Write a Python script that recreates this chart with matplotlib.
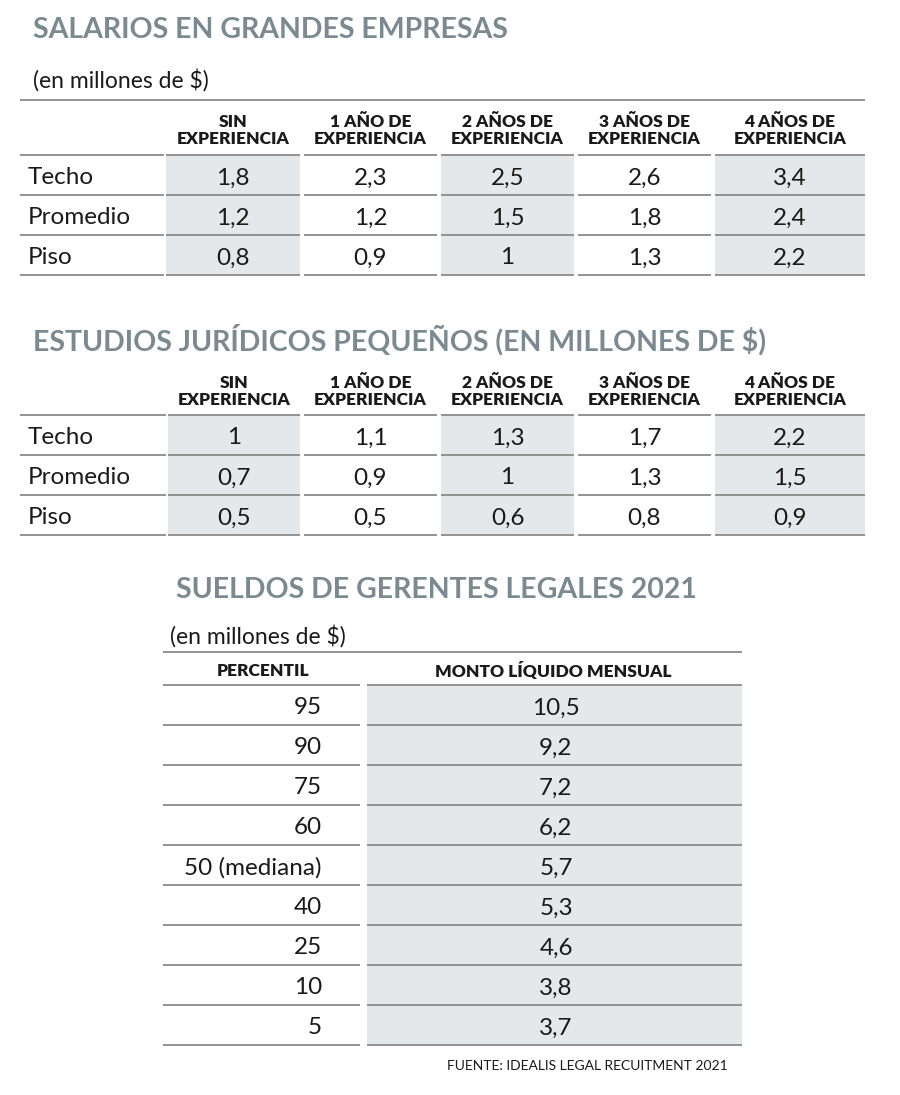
import matplotlib
matplotlib.use("Agg")
import matplotlib.pyplot as plt
from matplotlib.patches import Rectangle

plt.rcParams['font.family'] = ['Lato', 'DejaVu Sans']

title1 = "SALARIOS EN GRANDES EMPRESAS"
title2 = "ESTUDIOS JURÍDICOS PEQUEÑOS (EN MILLONES DE $)"
title3 = "SUELDOS DE GERENTES LEGALES 2021"
subtitle = "(en millones de $)"
col_headers = ["SIN\nEXPERIENCIA", "1 AÑO DE\nEXPERIENCIA", "2 AÑOS DE\nEXPERIENCIA",
               "3 AÑOS DE\nEXPERIENCIA", "4 AÑOS DE\nEXPERIENCIA"]
row_labels = ["Techo", "Promedio", "Piso"]
grandes = [["1,8", "2,3", "2,5", "2,6", "3,4"],
           ["1,2", "1,2", "1,5", "1,8", "2,4"],
           ["0,8", "0,9", "1", "1,3", "2,2"]]
pequenos = [["1", "1,1", "1,3", "1,7", "2,2"],
            ["0,7", "0,9", "1", "1,3", "1,5"],
            ["0,5", "0,5", "0,6", "0,8", "0,9"]]
percentiles = ["95", "90", "75", "60", "50 (mediana)", "40", "25", "10", "5"]
montos = ["10,5", "9,2", "7,2", "6,2", "5,7", "5,3", "4,6", "3,8", "3,7"]
source = "FUENTE: IDEALIS LEGAL RECUITMENT 2021"

TITLE_C = "#7b8a91"
SHADE = "#e5e8ea"
LINE = "#8a8a8a"
TXT = "#1a1a1a"
TS, BS, HS, SS = 20.5, 17.5, 12.5, 16.5

fig = plt.figure(figsize=(9, 10.95), dpi=100)
ax = fig.add_axes([0, 0, 1, 1])
ax.set_xlim(0, 900); ax.set_ylim(1095, 0); ax.axis("off")

def hline(y, x0, x1, lw=1.3):
    ax.plot([x0, x1], [y, y], color=LINE, lw=lw, solid_capstyle="butt")

def exp_table(ytitle, title, ysub, ytop, yhead, data, cols, labx, topline):
    ax.text(33, ytitle, title, fontsize=TS, fontweight="bold", color=TITLE_C, va="center")
    if ysub is not None:
        ax.text(33, ysub, subtitle, fontsize=SS, color=TXT, va="center")
    if topline:
        hline(ytop, 20, 865)
    rh = 40
    for j, (x0, x1) in enumerate(cols):
        if j % 2 == 0:
            ax.add_patch(Rectangle((x0, yhead), x1 - x0, rh * 3, color=SHADE, lw=0))
        ax.text((x0 + x1) / 2, (ytop + yhead) / 2 + 3, col_headers[j], fontsize=HS,
                fontweight="heavy", color=TXT, ha="center", va="center", linespacing=1.1)
        hline(yhead, x0, x1)
    hline(yhead, 20, cols[0][0] - 2)
    for i, lab in enumerate(row_labels):
        yc = yhead + rh * i + rh / 2 + 3
        ax.text(labx, yc, lab, fontsize=BS, color=TXT, va="center")
        for j, (x0, x1) in enumerate(cols):
            ax.text((x0 + x1) / 2, yc, data[i][j], fontsize=BS, color=TXT, ha="center", va="center")
        yb = yhead + rh * (i + 1)
        hline(yb, 20, cols[0][0] - 2)
        for x0, x1 in cols:
            hline(yb, x0, x1)

cols1 = [(166, 300), (304, 437), (441, 574), (578, 711), (715, 865)]
exp_table(30, title1, 80, 100, 155, grandes, cols1, 28, True)
cols2 = [(168, 300), (304, 437), (441, 574), (578, 711), (715, 865)]
exp_table(340, title2, None, 362, 415, pequenos, cols2, 28, False)

# Table 3
ax.text(176, 590, title3, fontsize=TS, fontweight="bold", color=TITLE_C, va="center")
ax.text(170, 636, subtitle, fontsize=SS, color=TXT, va="center")
hline(652, 163, 742)
ax.text(263, 671, "PERCENTIL", fontsize=HS, fontweight="heavy", color=TXT, ha="center", va="center")
ax.text(553, 671, "MONTO LÍQUIDO MENSUAL", fontsize=HS, fontweight="heavy", color=TXT, ha="center", va="center")
yh = 685; rh = 40
ax.add_patch(Rectangle((367, yh), 742 - 367, rh * len(montos), color=SHADE, lw=0))
hline(yh, 163, 360); hline(yh, 367, 742)
for i, (p, m) in enumerate(zip(percentiles, montos)):
    yc = yh + rh * i + rh / 2 + 3
    ax.text(322, yc, p, fontsize=BS, color=TXT, ha="right", va="center")
    ax.text(556, yc, m, fontsize=BS, color=TXT, ha="center", va="center")
    yb = yh + rh * (i + 1)
    hline(yb, 163, 360); hline(yb, 367, 742)
ax.text(728, 1066, source, fontsize=10, color=TXT, ha="right", va="center")

fig.savefig("out.png", dpi=100, facecolor="white")
